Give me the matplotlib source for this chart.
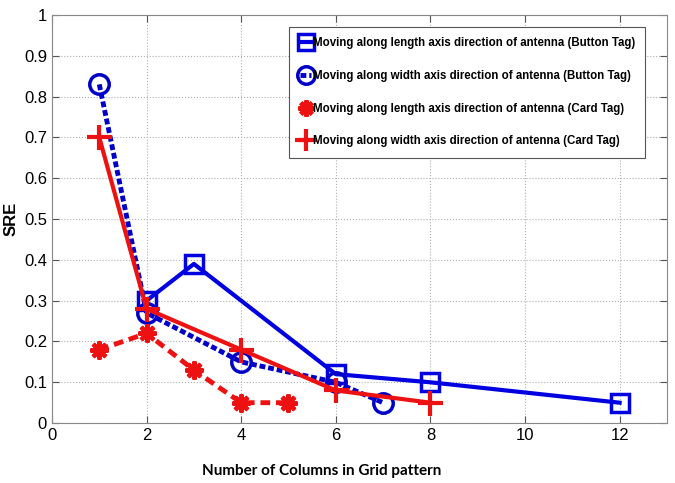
import matplotlib
matplotlib.use('Agg')
from matplotlib import pyplot as plt

plt.rcParams['font.family'] = ['Liberation Sans', 'DejaVu Sans']

# data
x_len_button = [2, 3, 6, 8, 12]
y_len_button = [0.30, 0.39, 0.12, 0.10, 0.05]
x_wid_button = [1, 2, 4, 6, 7]
y_wid_button = [0.83, 0.27, 0.15, 0.10, 0.05]
x_len_card = [1, 2, 3, 4, 5]
y_len_card = [0.18, 0.22, 0.13, 0.05, 0.05]
x_wid_card = [1, 2, 4, 6, 8]
y_wid_card = [0.70, 0.28, 0.18, 0.08, 0.05]

labels = ['Moving along length axis direction of antenna (Button Tag)',
          'Moving along width axis direction of antenna (Button Tag)',
          'Moving along length axis direction of antenna (Card Tag)',
          'Moving along width axis direction of antenna (Card Tag)']

fig = plt.figure(figsize=(6.75, 4.83), dpi=100)
ax = fig.add_axes([0.077, 0.124, 0.911, 0.845])

ax.plot(x_len_button, y_len_button, '-s', color='#0000e0', lw=3, ms=13,
        mfc='none', mew=2.5, label=labels[0])
ax.plot(x_wid_button, y_wid_button, color='#0000c8', ls=(0, (1.2, 0.6)),
        marker='o', lw=3.5, ms=14, mfc='none', mew=2.5, label=labels[1])
ax.plot(x_len_card, y_len_card, color='#ee1111', ls=(0, (2, 1.2)),
        marker=(8, 2, 0), lw=3.5, ms=13, mew=3, label=labels[2])
ax.plot(x_wid_card, y_wid_card, '-+', color='#ee1111', lw=3, ms=18,
        mew=3, label=labels[3])

ax.set_xlim(0, 13)
ax.set_ylim(0, 1)
ax.set_xticks(range(0, 13, 2))
ax.set_yticks([i / 10 for i in range(11)])
ax.set_yticklabels(['0', '0.1', '0.2', '0.3', '0.4', '0.5', '0.6', '0.7',
                    '0.8', '0.9', '1'])
ax.grid(True, linestyle=':', color='#b0b0b0', lw=0.8)
ax.tick_params(labelsize=12, direction='in', length=5, color='#555555',
               top=True, right=True)
for s in ax.spines.values():
    s.set_color('#888888')

ax.set_xlabel('Number of Columns in Grid pattern', fontsize=11,
              fontweight='bold', family=['Lato', 'DejaVu Sans'])
ax.xaxis.set_label_coords(0.439, -0.1)
ax.set_ylabel('SRE', fontsize=12, fontweight='bold', labelpad=4)

leg = ax.legend(loc='upper right', bbox_to_anchor=(0.974, 0.985),
                prop={'weight': 'bold', 'size': 8.3},
                handlelength=1.0, handletextpad=0.1, borderpad=0.9,
                labelspacing=1.8, fancybox=False, framealpha=1,
                edgecolor='#555555', markerscale=0.9)
leg.get_frame().set_linewidth(0.8)

fig.savefig('out.png', dpi=100)
